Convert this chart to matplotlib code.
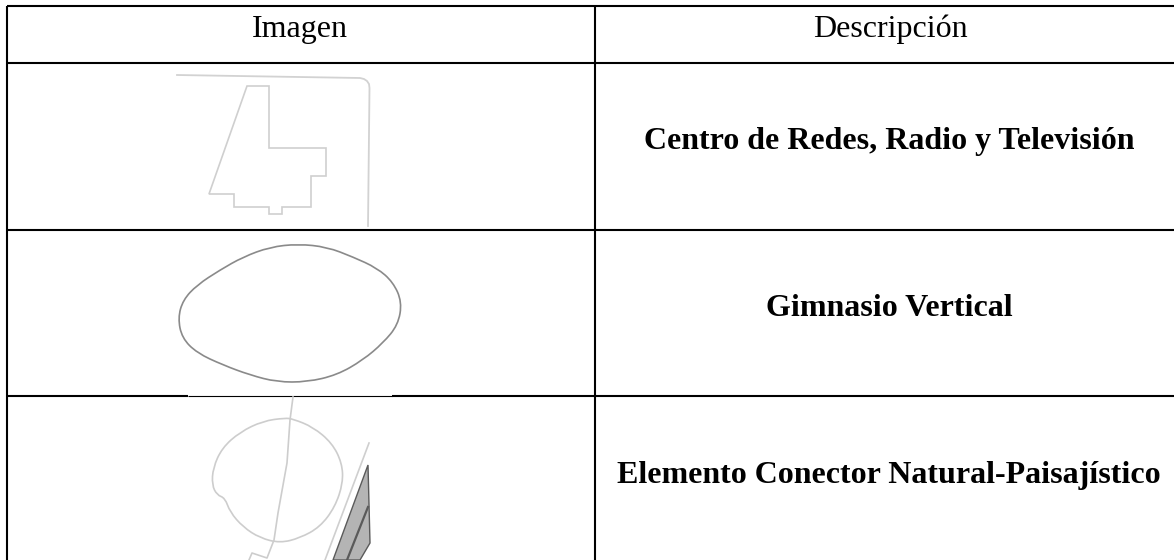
import matplotlib.pyplot as plt
from matplotlib.path import Path
from matplotlib.patches import PathPatch, Polygon

plt.rcParams['font.family'] = ['Liberation Serif', 'DejaVu Serif']

W = 1174
H = 560

headers = ['Imagen', 'Descripción']
descriptions = ['Centro de Redes, Radio y Televisión', 'Gimnasio Vertical',
                'Elemento Conector Natural-Paisajístico']

row_lines = [6, 63, 230, 396]
col_lines = [7, 595]

building = [(247, 86), (269, 86), (269, 148), (326, 148), (326, 176), (311, 176), (311, 207),
            (282, 207), (282, 214), (269, 214), (269, 207), (234, 207), (234, 194), (209, 194)]
road = [(177, 75), (360, 78), (364, 79), (367, 81), (369, 84), (369.5, 88), (368, 226)]

blob = [(298, 244), (327, 247), (353, 257), (377, 268), (393, 282), (402, 302), (398, 325), (383, 343),
        (363, 360), (337, 375), (307, 382), (277, 382), (250, 375), (223, 365), (197, 353), (182, 338),
        (178, 318), (183, 300), (197, 285), (220, 270), (243, 257), (270, 247)]

circle = [(285, 418), (263, 421), (240, 432), (222, 448), (213, 468), (212, 485), (217, 495), (225, 498),
          (230, 512), (243, 527), (260, 538), (280, 543), (300, 538), (320, 527), (335, 507), (343, 483),
          (342, 463), (332, 443), (313, 427), (293, 419)]
path_line = [(293, 397), (290, 420), (287, 463), (278, 513), (274, 540), (267, 558), (252, 553), (249, 560)]
edge_line = [(369, 443), (325, 560)]
wedge = [(368, 465), (370, 543), (360, 560), (333, 560)]
wedge_strip = [(368, 507), (347, 560)]


def smooth_closed(pts):
    # midpoints as on-curve points, the read points as controls
    mids = [((pts[i][0] + pts[(i + 1) % len(pts)][0]) / 2, (pts[i][1] + pts[(i + 1) % len(pts)][1]) / 2)
            for i in range(len(pts))]
    verts = [mids[-1]]
    codes = [Path.MOVETO]
    for i in range(len(pts)):
        verts += [pts[i], mids[i]]
        codes += [Path.CURVE3, Path.CURVE3]
    return Path(verts, codes)


fig = plt.figure(figsize=(W / 100, H / 100), dpi=100)
ax = fig.add_axes([0, 0, 1, 1])
ax.set_xlim(0, W)
ax.set_ylim(H, 0)
ax.axis('off')

# table grid, no right border in the reference
ax.hlines(row_lines[:3], col_lines[0], W, color='black', lw=1.5)
ax.hlines([row_lines[3], row_lines[3]], [col_lines[0], 392], [188, W], color='black', lw=1.5)
ax.hlines(row_lines[3], 188, 392, color='black', lw=0.8)
ax.vlines(col_lines, row_lines[0], H, color='black', lw=1.5)

# sketches
ax.add_patch(Polygon(building, closed=True, fill=False, ec='#cfcfcf', lw=1.2))
ax.plot(*zip(*road), color='#d2d2d2', lw=1.3)
ax.add_patch(PathPatch(smooth_closed(blob), fill=False, ec='#8a8a8a', lw=1.2))
ax.add_patch(PathPatch(smooth_closed(circle), fill=False, ec='#cdcdcd', lw=1.2))
ax.plot(*zip(*path_line), color='#cdcdcd', lw=1.2)
ax.plot(*zip(*edge_line), color='#cfcfcf', lw=1.2)
ax.add_patch(Polygon(wedge, closed=True, fc='#b4b4b4', ec='#5a5a5a', lw=1.0))
ax.plot(*zip(*wedge_strip), color='#5a5a5a', lw=1.6)

# text
ax.text(300, 37, headers[0], ha='center', va='baseline', fontsize=23)
ax.text(890, 37, headers[1], ha='center', va='baseline', fontsize=23)
for y, s in zip([149, 316, 483], descriptions):
    ax.text(889, y, s, ha='center', va='baseline', fontsize=23, fontweight='bold')

fig.savefig('out.png', dpi=100)
